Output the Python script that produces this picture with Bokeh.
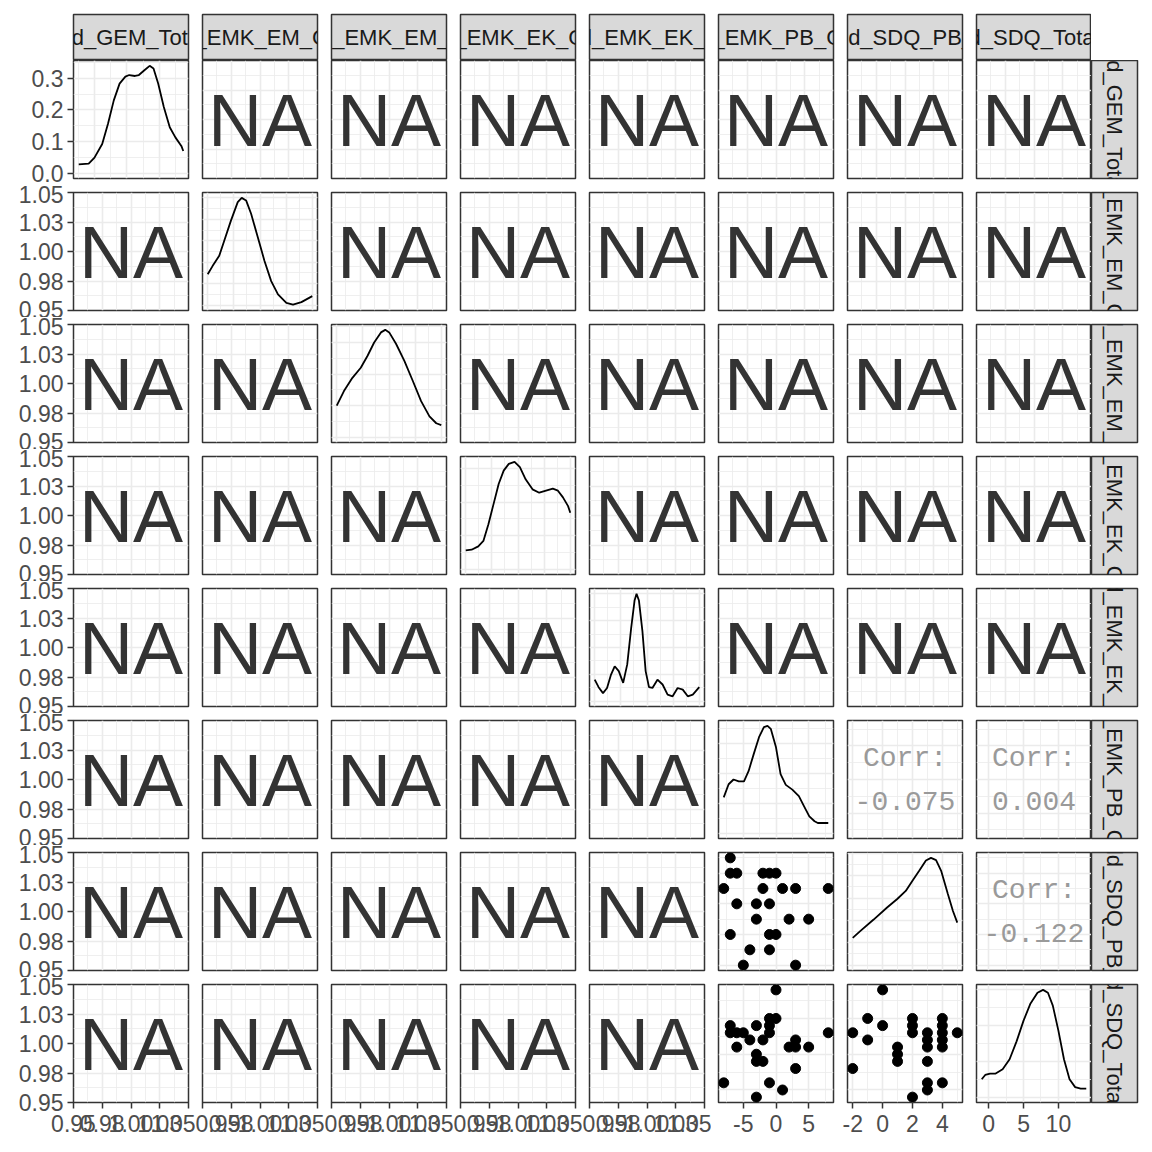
import math
from bokeh.plotting import figure
from bokeh.layouts import gridplot
from bokeh.models import Range1d, FixedTicker, BasicTicker
from bokeh.core.properties import value
from bokeh.embed import file_html
from bokeh.resources import INLINE

# ---------------- data ----------------
var_names = ["Child_GEM_Total_z", "Child_EMK_EM_Global", "Child_EMK_EM_Total",
             "Child_EMK_EK_Global", "Child_EMK_EK_Total", "Child_EMK_PB_Global",
             "Child_SDQ_PB_T1", "Child_SDQ_Total_T1"]

# "NA" panels (no valid pairs)
na_value = 1.0
na_ticks = [0.95, 0.975, 1.0, 1.025, 1.05]
na_tick_labels = ["0.95", "0.98", "1.00", "1.03", "1.05"]
na_minor = [0.9625, 0.9875, 1.0125, 1.0375]

# diagonal densities (x in variable units, y = density)
gem_x = [1.0, 1.62, 1.98, 2.46, 2.82, 3.18, 3.54, 3.90, 4.14, 4.50, 4.74, 5.10, 5.41, 5.65, 5.94, 6.29, 6.66, 7.01, 7.38, 7.5]
gem_d = [0.028, 0.030, 0.049, 0.092, 0.156, 0.230, 0.283, 0.305, 0.310, 0.307, 0.310, 0.326, 0.339, 0.331, 0.283, 0.209, 0.145, 0.113, 0.086, 0.070]
em1_x = [0, 0.46, 1.1, 1.58, 2.22, 2.87, 3.25, 3.67, 4.15, 4.79, 5.43, 6.07, 6.72, 7.52, 8.16, 8.96, 10]
em1_d = [0.072, 0.091, 0.115, 0.150, 0.197, 0.240, 0.250, 0.244, 0.213, 0.158, 0.103, 0.056, 0.025, 0.005, 0.001, 0.007, 0.021]
em2_x = [0, 0.69, 1.5, 2.3, 2.95, 3.58, 4.23, 4.64, 5.02, 5.67, 6.47, 7.28, 8.07, 8.87, 9.52, 10]
em2_d = [0.050, 0.073, 0.094, 0.110, 0.129, 0.150, 0.166, 0.170, 0.166, 0.148, 0.121, 0.089, 0.057, 0.033, 0.022, 0.019]
ek1_x = [0, 0.56, 1.2, 1.69, 2.17, 2.66, 3.15, 3.63, 4.12, 4.67, 5.18, 5.73, 6.39, 7.03, 7.68, 8.33, 8.82, 9.3, 9.79, 10]
ek1_d = [0.028, 0.029, 0.034, 0.042, 0.067, 0.097, 0.127, 0.147, 0.157, 0.160, 0.152, 0.134, 0.119, 0.114, 0.117, 0.120, 0.117, 0.107, 0.094, 0.084]
ek2_x = [0, 0.37, 0.79, 1.18, 1.56, 1.91, 2.3, 2.72, 3.11, 3.49, 3.81, 4.0, 4.23, 4.56, 4.87, 5.19, 5.52, 6.0, 6.49, 6.97, 7.45, 7.93, 8.42, 8.9, 9.38, 10]
ek2_d = [0.080, 0.052, 0.030, 0.049, 0.099, 0.130, 0.112, 0.068, 0.137, 0.274, 0.375, 0.400, 0.375, 0.262, 0.112, 0.052, 0.049, 0.080, 0.062, 0.024, 0.018, 0.049, 0.043, 0.018, 0.024, 0.052]
pb_x = [-8.0, -7.25, -6.5, -5.7, -4.9, -4.2, -3.4, -2.6, -1.85, -1.3, -0.8, 0.0, 0.7, 1.5, 2.5, 3.5, 4.3, 5.1, 5.9, 6.4, 8.0]
pb_d = [0.060, 0.082, 0.090, 0.087, 0.087, 0.104, 0.133, 0.161, 0.178, 0.180, 0.175, 0.144, 0.099, 0.081, 0.073, 0.062, 0.045, 0.028, 0.020, 0.017, 0.017]
sdqpb_x = [-2.0, -1.5, -0.6, 0.3, 0.98, 1.55, 2.0, 2.45, 2.9, 3.24, 3.58, 3.92, 4.37, 4.71, 5.0]
sdqpb_d = [0.061, 0.076, 0.102, 0.129, 0.148, 0.166, 0.189, 0.211, 0.234, 0.240, 0.235, 0.211, 0.159, 0.121, 0.095]
total_x = [-1.0, -0.5, 0.2, 1.0, 2.0, 3.0, 4.0, 5.0, 6.0, 7.0, 7.8, 8.5, 9.2, 10.0, 10.8, 11.6, 12.4, 13.2, 14.0]
total_d = [0.025, 0.031, 0.033, 0.033, 0.039, 0.053, 0.078, 0.107, 0.131, 0.146, 0.150, 0.146, 0.128, 0.093, 0.053, 0.025, 0.014, 0.012, 0.012]

dens_x = [gem_x, em1_x, em2_x, ek1_x, ek2_x, pb_x, sdqpb_x, total_x]
dens_y = [gem_d, em1_d, em2_d, ek1_d, ek2_d, pb_d, sdqpb_d, total_d]

# scatter panels
pb_vs_sdqpb_x = [-7, -7, -6, -2, -1, 0, -8, -2, 1, 3, 8, -6, -3, -1, -3, 2, 5, -7, -1, 0, -4, -1, -5, 3]
pb_vs_sdqpb_y = [5, 4, 4, 4, 4, 4, 3, 3, 3, 3, 3, 2, 2, 2, 1, 1, 1, 0, 0, 0, -1, -1, -2, -2]
pb_vs_total_x = [0, -1, 0, -7, -3, -1, -7, -6, -5, -1, 8, -4, -2, 3, -6, 2, 3, 5, -3, -3, -2, 3, -8, -1, 1, -3]
pb_vs_total_y = [14, 10, 10, 9, 9, 9, 8, 8, 8, 8, 8, 7, 7, 7, 6, 6, 6, 6, 5, 4, 4, 3, 1, 1, 0, -1]
sdqpb_vs_total_x = [0, -1, 0, -2, -1, 2, 2, 2, 1, 1, 1, 3, 3, 3, 3, 4, 4, 4, 4, 4, 5, -2, 3, 3, 4, 2]
sdqpb_vs_total_y = [14, 10, 9, 8, 7, 10, 9, 8, 6, 5, 4, 8, 7, 6, 4, 10, 9, 8, 7, 6, 8, 3, 1, 0, 1, -1]

scatter_data = {(6, 5): (pb_vs_sdqpb_x, pb_vs_sdqpb_y),
                (7, 5): (pb_vs_total_x, pb_vs_total_y),
                (7, 6): (sdqpb_vs_total_x, sdqpb_vs_total_y)}

corr_text = {(5, 6): "-0.075", (5, 7): "0.004", (6, 7): "-0.122"}
corr_label = "Corr:"

# axis ticks and labels
gem_dens_ticks = [0.0, 0.1, 0.2, 0.3]
gem_dens_tick_labels = ["0.0", "0.1", "0.2", "0.3"]
gem_dens_minor = [0.05, 0.15, 0.25, 0.35]
pb_ticks = [-5, 0, 5]
pb_tick_labels = ["-5", "0", "5"]
sdqpb_ticks = [-2, 0, 2, 4]
sdqpb_tick_labels = ["-2", "0", "2", "4"]
total_ticks = [0, 5, 10]
total_tick_labels = ["0", "5", "10"]

grid_major = [[2, 4, 6], [0, 2.5, 5, 7.5, 10], [0, 2.5, 5, 7.5, 10], [0, 2.5, 5, 7.5, 10],
              [0, 2.5, 5, 7.5, 10], pb_ticks, sdqpb_ticks, total_ticks]
grid_minor = [[1, 3, 5, 7], [1.25, 3.75, 6.25, 8.75], [1.25, 3.75, 6.25, 8.75], [1.25, 3.75, 6.25, 8.75],
              [1.25, 3.75, 6.25, 8.75], [-7.5, -2.5, 2.5, 7.5], [-1, 1, 3, 5], [2.5, 7.5, 12.5]]
bottom_ticks = {5: (pb_ticks, pb_tick_labels), 6: (sdqpb_ticks, sdqpb_tick_labels), 7: (total_ticks, total_tick_labels)}


def expand(lo, hi, mult=0.05):
    d = (hi - lo) * mult
    return (lo - d, hi + d)


var_rng = [expand(min(xs), max(xs)) for xs in dens_x]
dens_rng = [expand(0.0, max(ys)) for ys in dens_y]
na_rng = (na_ticks[0], na_ticks[-1])

# ---------------- layout ----------------
cols_w = [195] + [129] * 6 + [122] + [61]
cols_b = [(73, 7)] + [(7, 7)] * 6 + [(7, 0)] + [(0, 15)]
rows_h = [60, 125] + [132] * 6 + [175]
rows_b = [(14, 0), (0, 7)] + [(7, 7)] * 6 + [(7, 50)]

GRID = "#EBEBEB"
BORDER = "#333333"
FONT = "Liberation Sans"


def base_fig(w, h, lr, tb, xr, yr, left_axis=False, bottom_axis=False, bg="white"):
    p = figure(width=w, height=h, x_range=Range1d(*xr), y_range=Range1d(*yr),
               output_backend="svg", toolbar_location=None, tools="", title=None,
               x_axis_location="below" if bottom_axis else None,
               y_axis_location="left" if left_axis else None,
               min_border_left=lr[0], min_border_right=lr[1],
               min_border_top=tb[0], min_border_bottom=tb[1],
               background_fill_color=bg, border_fill_color="white",
               outline_line_color=BORDER, outline_line_width=1.5)
    return p


def style_axis(ax, ticks, labels, standoff):
    ax.ticker = FixedTicker(ticks=list(ticks), minor_ticks=[])
    ax.major_label_overrides = {t: s for t, s in zip(ticks, labels)}
    ax.axis_line_color = None
    ax.major_tick_line_color = BORDER
    ax.major_tick_line_width = 1.5
    ax.major_tick_out = 6
    ax.major_tick_in = 0
    ax.minor_tick_line_color = None
    ax.major_label_text_font = FONT
    ax.major_label_text_font_size = "23px"
    ax.major_label_text_color = "#4D4D4D"
    ax.major_label_standoff = standoff


def set_grid(g, major, minor):
    if major is None:
        g.ticker = BasicTicker(desired_num_ticks=5, num_minor_ticks=2)
    else:
        g.ticker = FixedTicker(ticks=list(major), minor_ticks=list(minor))
    g.grid_line_color = GRID
    g.grid_line_width = 1.6
    g.minor_grid_line_color = GRID
    g.minor_grid_line_width = 0.8


def panel(i, j):
    w, h = cols_w[j], rows_h[i + 1]
    left, bottom = (j == 0), (i == 7)
    if i == j:
        kind = "diag"
    elif i >= 5 and j >= 5:
        kind = "scatter" if i > j else "corr"
    else:
        kind = "na"

    if kind == "na":
        xr, yr = na_rng, na_rng
        xg, yg = (na_ticks, na_minor), (na_ticks, na_minor)
    else:
        xr = var_rng[j]
        xg = (grid_major[j], grid_minor[j])
        if kind == "diag":
            yr = dens_rng[i]
            yg = (gem_dens_ticks, gem_dens_minor) if i == 0 else (None, None)
        else:
            yr = var_rng[i]
            yg = (grid_major[i], grid_minor[i])

    p = base_fig(w, h, cols_b[j], rows_b[i + 1], xr, yr, left, bottom)
    set_grid(p.xgrid[0], *xg)
    set_grid(p.ygrid[0], *yg)

    if left:
        if i == 0:
            style_axis(p.yaxis[0], gem_dens_ticks, gem_dens_tick_labels, 4)
        else:
            style_axis(p.yaxis[0], na_ticks, na_tick_labels, 4)
    if bottom:
        if j in bottom_ticks:
            style_axis(p.xaxis[0], *bottom_ticks[j], 6)
        else:
            style_axis(p.xaxis[0], na_ticks, na_tick_labels, 6)

    if kind == "na":
        p.text(x=[na_value], y=[na_value], text=["NA"], text_align="center",
               text_baseline="middle", text_font=value(FONT), text_font_size="75px",
               text_color="#333333")
    elif kind == "diag":
        p.line(dens_x[i], dens_y[i], line_color="black", line_width=1.8)
    elif kind == "scatter":
        xs, ys = scatter_data[(i, j)]
        p.scatter(xs, ys, size=10, color="black")
    else:
        cx, cy = (xr[0] + xr[1]) / 2, (yr[0] + yr[1]) / 2
        common = dict(text_align="center", text_baseline="middle",
                      text_font=value("Liberation Mono"), text_font_size="28px",
                      text_color="#9A9A9A")
        p.text(x=[cx], y=[cy], text=[corr_label], y_offset=-21, **common)
        p.text(x=[cx], y=[cy], text=[corr_text[(i, j)]], y_offset=21, **common)
    return p


def strip(label, w, h, lr, tb, vertical):
    p = base_fig(w, h, lr, tb, (0, 1), (0, 1), bg="#D9D9D9")
    p.xgrid.visible = False
    p.ygrid.visible = False
    p.text(x=[0.5], y=[0.5], text=[label], angle=-math.pi / 2 if vertical else 0,
           text_align="center", text_baseline="middle", text_font=value(FONT),
           text_font_size="22px", text_color="#1A1A1A")
    return p


children = []
top = [strip(var_names[j], cols_w[j], rows_h[0], cols_b[j], rows_b[0], False) for j in range(8)]
top.append(None)
children.append(top)
for i in range(8):
    r = [panel(i, j) for j in range(8)]
    r.append(strip(var_names[i], cols_w[8], rows_h[i + 1], cols_b[8], rows_b[i + 1], True))
    children.append(r)

grid = gridplot(children, toolbar_location=None)

open("out.html", "w").write(file_html(grid, INLINE))
